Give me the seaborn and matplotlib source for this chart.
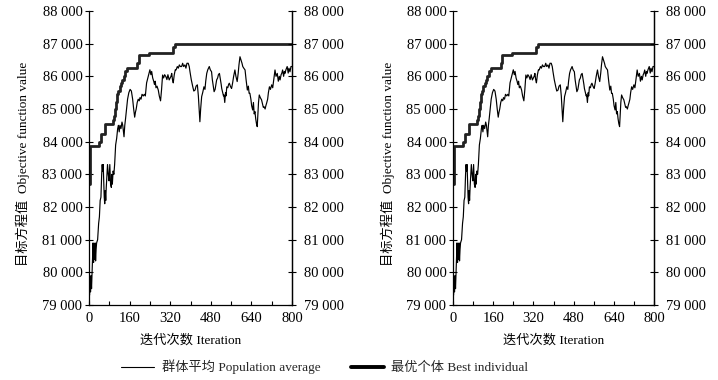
import matplotlib
matplotlib.use("Agg")
import matplotlib.pyplot as plt
import seaborn as sns
import numpy as np
import pandas as pd
from matplotlib.ticker import FuncFormatter, MultipleLocator
from matplotlib.lines import Line2D

# ---- data ----
pop_iter = [0, 2, 4, 6, 8, 10, 12, 14, 16, 18, 20, 22, 24, 26, 28, 30, 34, 38, 41, 44,
            47, 50, 52, 54, 56, 58, 60, 62, 64, 66, 68, 70, 73, 76, 79, 82, 85, 88, 90, 92,
            95, 98, 101, 105, 109, 113, 116, 119, 122, 126, 130, 133, 136, 138, 141, 144, 148, 152, 157, 162,
            167, 172, 176, 180, 183, 186, 190, 194, 198, 201, 205, 209, 214, 218, 222, 227, 232, 237, 240, 244,
            247, 251, 255, 258, 261, 264, 268, 273, 277, 282, 286, 290, 294, 298, 303, 307, 311, 316, 320, 323,
            326, 329, 332, 336, 340, 343, 348, 352, 356, 360, 365, 369, 373, 378, 382, 386, 391, 395, 398, 403,
            409, 413, 418, 422, 427, 431, 434, 437, 440, 444, 448, 453, 457, 460, 464, 468, 471, 474, 478, 483,
            486, 490, 493, 497, 500, 503, 507, 510, 514, 518, 521, 523, 527, 530, 532, 535, 538, 540, 543, 547,
            550, 553, 557, 560, 562, 566, 570, 575, 579, 584, 588, 591, 595, 599, 603, 606, 610, 615, 619, 624,
            628, 631, 634, 638, 641, 645, 648, 651, 654, 657, 660, 663, 666, 668, 671, 675, 680, 684, 687, 690,
            694, 697, 700, 704, 707, 711, 715, 720, 724, 728, 733, 737, 742, 746, 750, 753, 757, 760, 763, 767,
            770, 772, 776, 781, 785, 788, 792, 796, 800]
pop_value = [79900, 79300, 79800, 79400, 79900, 79500, 80000, 80400, 80900, 80300, 80800, 80400, 80900, 80350, 80700, 80900, 81000, 81500, 81700, 82200,
             82300, 83000, 83300, 83100, 83300, 82800, 82300, 82100, 82500, 82200, 82600, 82900, 83300, 83000, 82800, 83300, 82700, 82600, 83000, 82700,
             83100, 83000, 83300, 83900, 84100, 84400, 84500, 84300, 84500, 84400, 84600, 84500, 84300, 84150, 84500, 84700, 85000, 85300, 85500, 85600,
             85550, 85300, 85000, 84750, 84900, 85000, 85200, 85300, 85250, 85350, 85300, 85450, 85400, 85450, 85400, 85800, 85950, 86100, 86200, 86050,
             86150, 85950, 85850, 85750, 85850, 85650, 85700, 85580, 85400, 85250, 85600, 86040, 85950, 86050, 85990, 85900, 86050, 85890, 85950, 86000,
             86090, 85900, 85800, 86050, 86200, 86195, 86300, 86250, 86350, 86300, 86300, 86400, 86300, 86350, 86250, 86400, 86400, 86300, 86140, 85900,
             85680, 85550, 85580, 85700, 85740, 85400, 85000, 84610, 85000, 85380, 85500, 85680, 85600, 85850, 86090, 86200, 86250, 86300, 86200, 86140,
             85900, 85700, 85530, 85600, 85750, 85890, 85950, 86050, 86090, 85900, 85750, 85630, 85500, 85400, 85430, 85200, 85500, 85400, 85680, 85650,
             85750, 85790, 85700, 85650, 85630, 85800, 86000, 86195, 86000, 85840, 86100, 86350, 86600, 86500, 86400, 86300, 86250, 86195, 85900, 85580,
             85700, 85480, 85480, 85300, 85100, 84970, 85200, 84850, 84920, 84700, 84550, 84460, 84900, 85200, 85430, 85350, 85280, 85150, 85050, 85070,
             85000, 85100, 85180, 85300, 85500, 85680, 85600, 85740, 85650, 85900, 86195, 86000, 86090, 85850, 86000, 85890, 86050, 86100, 86195, 86000,
             86150, 86090, 86200, 86300, 86100, 86250, 86140, 86300, 86300]

best_iter = [0, 2, 40, 46, 62, 95, 100, 104, 108, 112, 116, 121, 126, 131, 137, 143, 150, 190, 197, 236, 330, 337, 800]
best_value = [82700, 83870, 84000, 84250, 84550, 84650, 84800, 85000, 85200, 85450, 85550, 85700, 85800, 85900,
              86000, 86150, 86250, 86400, 86650, 86700, 86900, 87000, 87000]

y_ticks = [79000, 80000, 81000, 82000, 83000, 84000, 85000, 86000, 87000, 88000]
x_ticks = [0, 160, 320, 480, 640, 800]

xlabel_text = "迭代次数 Iteration"
ylabel_text = "目标方程值  Objective function value"
legend_pop = "群体平均 Population average"
legend_best = "最优个体 Best individual"

# ---- style ----
sns.set_theme(style="white")
plt.rcParams['font.family'] = ['Liberation Serif', 'Noto Sans CJK SC']
plt.rcParams['axes.unicode_minus'] = False
FS = 9.5
TFS = 10.5

pop_df = pd.DataFrame({"iter": pop_iter, "value": pop_value})
best_df = pd.DataFrame({"iter": best_iter, "value": best_value})

fig = plt.figure(figsize=(7.18, 3.80), dpi=100)
W, H = 718, 380
axes_px = [(89, 292), (453, 654)]
top_px, bot_px = 11, 305

fmt = FuncFormatter(lambda v, p: f"{int(v)//1000} {int(v)%1000:03d}")

for (l, r) in axes_px:
    ax = fig.add_axes([l / W, (H - bot_px) / H, (r - l) / W, (bot_px - top_px) / H])
    sns.lineplot(data=pop_df, x="iter", y="value", ax=ax, color="black", linewidth=0.85,
                 estimator=None, sort=False)
    sns.lineplot(data=best_df, x="iter", y="value", ax=ax, color="#222222", linewidth=2.0,
                 estimator=None, sort=False, drawstyle="steps-post")
    ax.set_xlim(0, 800)
    ax.set_ylim(79000, 88000)
    ax.set_xticks(x_ticks)
    ax.xaxis.set_minor_locator(MultipleLocator(80))
    ax.set_yticks(y_ticks)
    ax.yaxis.set_major_formatter(fmt)
    ax.spines["top"].set_visible(False)
    for s in ["left", "right", "bottom"]:
        ax.spines[s].set_color("black")
        ax.spines[s].set_linewidth(0.9)
    ax.tick_params(axis="x", which="both", direction="in", length=3, width=0.8,
                   labelsize=TFS, pad=5, colors="black", bottom=True, top=False)
    ax.tick_params(axis="y", which="major", direction="inout", length=5.5, width=0.8,
                   labelsize=TFS, pad=2, left=True, right=True,
                   labelleft=True, labelright=False, colors="black")
    # right-side labels via twin axis
    ax2 = ax.twinx()
    ax2.set_ylim(79000, 88000)
    ax2.set_yticks(y_ticks)
    ax2.yaxis.set_major_formatter(fmt)
    ax2.tick_params(axis="y", which="major", direction="inout", length=5.5, width=0.8,
                    labelsize=TFS, pad=6, colors="black")
    for s in ["top", "left", "bottom"]:
        ax2.spines[s].set_visible(False)
    ax2.spines["right"].set_color("black")
    ax2.spines["right"].set_linewidth(0.9)
    ax2.grid(False)
    ax.grid(False)
    ax.set_xlabel(xlabel_text, fontsize=FS, color="black")
    ax.xaxis.set_label_coords(0.5, -0.10)
    ax.set_ylabel(ylabel_text, fontsize=FS, color="black")
    ax.yaxis.set_label_coords(-0.29, 0.48)

handles = [Line2D([0], [0], color="black", linewidth=0.8),
           Line2D([0], [0], color="black", linewidth=2.8)]
fig.legend(handles, [legend_pop, legend_best], loc="center", bbox_to_anchor=(0.452, 1 - 367 / H),
           ncol=2, frameon=False, fontsize=FS, handlelength=2.5, handletextpad=0.6,
           columnspacing=2.3)

fig.savefig("out.png", dpi=100, facecolor="white")
